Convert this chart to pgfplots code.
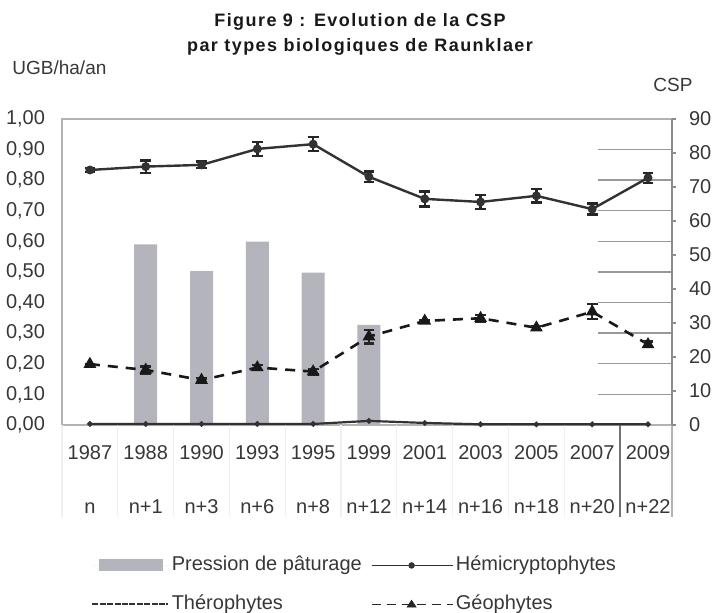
\documentclass[border=0pt]{standalone}
\usepackage{pgfplots}
\pgfplotsset{compat=1.18}
\usepackage{fontspec}
\setmainfont{Liberation Sans}
\newfontfamily\titlefont[LetterSpace=8]{Liberation Sans}
\definecolor{barcol}{RGB}{180,180,188}
\definecolor{txt}{RGB}{55,55,55}
\definecolor{lin}{RGB}{50,50,50}
\begin{document}
\begin{tikzpicture}
\path[use as bounding box] (0,0) rectangle (356.5pt,306.5pt);
% left axis: bars
\begin{axis}[
  at={(31pt,94pt)}, anchor=south west,
  scale only axis, width=305pt, height=153pt,
  xmin=-0.5, xmax=10.43, ymin=0, ymax=1,
  axis line style={draw=black!30, line width=0.8pt},
  xtick={0,...,10},
  xticklabels={{1987\\n},{1988\\n+1},{1990\\n+3},{1993\\n+6},{1995\\n+8},{1999\\n+12},{2001\\n+14},{2003\\n+16},{2005\\n+18},{2007\\n+20},{2009\\n+22}},
  xticklabel style={align=center, font=\fontsize{10}{27}\selectfont, text=txt, yshift=-6.5pt},
  major tick length=0pt,
  xtick pos=bottom, ytick pos=left,
  extra x ticks={0.5,1.5,...,9.5},
  extra x tick labels={},
  extra x tick style={major tick length=4pt, tick align=outside, tick style={black!45, line width=0.6pt}},
  ytick={0,0.1,...,1.0},
  yticklabel style={/pgf/number format/.cd, use comma, fixed, fixed zerofill, precision=2, /tikz/.cd, font=\fontsize{10}{12}\selectfont, text=txt, xshift=-5pt},
  /pgf/number format/assume math mode=true,
  clip=false,
]
% partial left-axis gridlines (visible at the right side)
\pgfplotsinvokeforeach{0.1,0.2,0.3,0.4,0.5,0.6,0.7,0.8,0.9}{
  \draw[black!40, line width=0.7pt] (axis cs:9.1,#1) -- (axis cs:10.43,#1);
}
% faint category separators below the axis
\pgfplotsinvokeforeach{-0.5,0.5,1.5,2.5,3.5,4.5,5.5,6.5,7.5,8.5}{
  \draw[black!6, line width=0.6pt] (axis cs:#1,0) -- ([yshift=-46pt]axis cs:#1,0);
}
\draw[black!55, line width=0.7pt] (axis cs:9.5,0) -- ([yshift=-46pt]axis cs:9.5,0);
\draw[black!30, line width=0.7pt] (axis cs:10.43,0) -- ([yshift=-46pt]axis cs:10.43,0);
\addplot[ybar, bar width=11.5pt, fill=barcol, draw=none] coordinates {
  (1,0.590) (2,0.503) (3,0.599) (4,0.498) (5,0.327)
};
\end{axis}
% right axis: CSP lines
\begin{axis}[
  at={(31pt,94pt)}, anchor=south west,
  scale only axis, width=305pt, height=153pt,
  xmin=-0.5, xmax=10.43, ymin=0, ymax=90,
  axis x line=none,
  axis y line*=right,
  axis line style={draw=black!45, line width=0.8pt},
  ytick={0,10,...,90},
  ytick pos=right,
  major tick length=2pt, tick align=outside,
  tick style={black!45, line width=0.6pt},
  yticklabel style={font=\fontsize{10}{12}\selectfont, text=txt, xshift=3pt},
  /pgf/number format/assume math mode=true,
  clip=false,
  legend columns=2,
  legend cell align=left,
  legend style={at={(0.0475,-0.425)}, anchor=north west, draw=none, fill=none, inner sep=0pt,
    row sep=9.5pt,
    nodes={inner sep=0pt, text height=7.5pt, text depth=2.5pt, font=\fontsize{10}{12}\selectfont, text=txt},
    /tikz/every odd column/.append style={column sep=1.2pt},
    /tikz/every even column/.append style={column sep=4.4pt}},
]
\addlegendimage{draw=none, fill=barcol, legend image code/.code={
  \path (0pt,0pt) -- (38pt,0pt);
  \fill[barcol] (3.5pt,-3pt) rectangle (35.5pt,3pt);}}
\addlegendentry{Pression de pâturage}
% Hemicryptophytes
\addplot[lin, line width=1.2pt, mark=*, mark size=1.6pt, forget plot,
  error bars/.cd, y dir=both, y explicit,
  error bar style={line width=1.2pt, black!85},
  error mark options={rotate=90, mark size=2.7pt, line width=1.2pt, black!85},
  ] coordinates {
  (0,75.0) +- (0,0.6)
  (1,76.0) +- (0,1.8)
  (2,76.5) +- (0,1.0)
  (3,81.2) +- (0,2.1)
  (4,82.6) +- (0,2.1)
  (5,73.0) +- (0,1.6)
  (6,66.5) +- (0,2.2)
  (7,65.6) +- (0,2.0)
  (8,67.4) +- (0,2.0)
  (9,63.5) +- (0,1.6)
  (10,72.7) +- (0,1.5)
};
\addlegendimage{legend image code/.code={
  \draw[lin, line width=0.8pt] (0pt,0pt) -- (40.5pt,0pt);
  \fill[lin] (20pt,0pt) circle (1.4pt);}}
\addlegendentry{Hémicryptophytes}
% Therophytes
\addplot[lin, line width=1.1pt, mark=*, mark size=0.8pt, forget plot] coordinates {
  (0,0.3) (1,0.3) (2,0.3) (3,0.3) (4,0.3) (5,1.2) (6,0.6) (7,0.2) (8,0.2) (9,0.2) (10,0.2)
};
\addlegendimage{legend image code/.code={
  \draw[lin, line width=1.0pt, dash pattern=on 3pt off 0.7pt] (0pt,0pt) -- (38pt,0pt);}}
\addlegendentry{Thérophytes}
% Geophytes
\addplot[black!90, line width=1.3pt, dash pattern=on 5pt off 4pt, mark=triangle*, mark size=2.4pt,
  mark options={solid}, forget plot,
  error bars/.cd, y dir=both, y explicit,
  error bar style={line width=1.2pt, solid, black!85},
  error mark options={rotate=90, mark size=2.7pt, line width=1.2pt, black!85},
  ] coordinates {
  (0,17.9) +- (0,0)
  (1,16.2) +- (0,1.0)
  (2,13.2) +- (0,0.6)
  (3,16.9) +- (0,0.8)
  (4,15.7) +- (0,0.8)
  (5,26.0) +- (0,2.0)
  (6,30.6) +- (0,0.3)
  (7,31.4) +- (0,1.0)
  (8,28.6) +- (0,0.6)
  (9,33.3) +- (0,2.2)
  (10,23.7) +- (0,0.8)
};
\addlegendimage{legend image code/.code={
  \draw[black!85, line width=0.9pt, dash pattern=on 4.5pt off 3pt] (0pt,0pt) -- (40.5pt,0pt);
  \fill[black!85] (17.8pt,-1.3pt) -- (22.2pt,-1.3pt) -- (20pt,2pt) -- cycle;}}
\addlegendentry{Géophytes}
\end{axis}
% titles and axis names
\node[anchor=base, inner sep=0pt, text=black!90, font=\titlefont\bfseries\fontsize{9}{12.5}\selectfont] at (180pt,293pt) {Figure 9 : Evolution de la CSP};
\node[anchor=base, inner sep=0pt, text=black!90, font=\titlefont\bfseries\fontsize{9}{12.5}\selectfont] at (180pt,280.5pt) {par types biologiques de Raunklaer};
\node[anchor=base west, inner sep=0pt, text=txt, font=\fontsize{9.5}{12}\selectfont] at (6pt,269pt) {UGB/ha/an};
\node[anchor=base west, inner sep=0pt, text=txt, font=\fontsize{9.5}{12}\selectfont] at (326.5pt,260.5pt) {CSP};
\end{tikzpicture}
\end{document}
